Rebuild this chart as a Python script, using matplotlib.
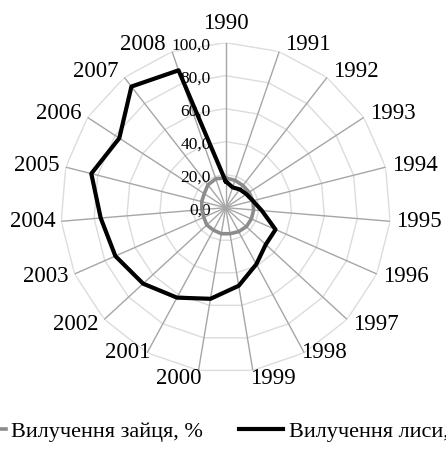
import numpy as np
import matplotlib
matplotlib.use('Agg')
import matplotlib.pyplot as plt

plt.rcParams['font.family'] = ['Liberation Serif', 'DejaVu Serif']

years = ['1990', '1991', '1992', '1993', '1994', '1995', '1996', '1997', '1998', '1999',
         '2000', '2001', '2002', '2003', '2004', '2005', '2006', '2007', '2008']
hare = [18, 17.5, 17, 17, 17, 17, 17, 17, 16.5, 16, 16, 15.5, 15.5, 14.5, 14.5, 15, 15.5, 17.5, 18.5]
fox = [16, 13, 14, 15, 17, 22, 33, 33, 39, 48, 56, 62, 68, 73, 76, 84, 77, 93, 88]
levels = [0, 20, 40, 60, 80, 100]
hare_label = 'Вилучення зайця, %'
fox_label = 'Вилучення лиси, %'

n = len(years)
angles = np.linspace(0, 2 * np.pi, n, endpoint=False)
closed = np.append(angles, angles[0])

fig = plt.figure(figsize=(4.46, 4.49), dpi=100)
ax = fig.add_axes([0.136, 0.170, 0.740, 0.735], projection='polar')
ax.set_theta_zero_location('N')
ax.set_theta_direction(-1)
ax.set_ylim(0, 100)
ax.grid(False)
ax.spines['polar'].set_visible(False)
ax.set_xticks([])
ax.set_yticks([])

# polygon rings and spokes like excel radar
for lv in levels[1:]:
    ax.plot(closed, [lv] * (n + 1), color='#dcdcdc', lw=1.0, zorder=1)
for a in angles:
    ax.plot([a, a], [0, 100], color='#a6a6a6', lw=1.0, zorder=1)

ax.plot(closed, hare + hare[:1], color='#8c8c8c', lw=2.6, zorder=3, label=hare_label)
ax.plot(closed, fox + fox[:1], color='black', lw=3.0, zorder=4, label=fox_label)

for lv in levels:
    ax.annotate(f'{lv:.1f}'.replace('.', ','), xy=(0, lv), xytext=(-15, -3),
                textcoords='offset pixels', ha='right', va='center', fontsize=12.5, zorder=2)

# category labels placed beside the spoke ends
for a, y in zip(angles, years):
    s, c = np.sin(a), np.cos(a)
    if abs(s) < 0.05:
        ha, va, dx, dy = 'center', 'bottom', 0, 9
    elif c < -0.95:
        ha, va, dx, dy = ('left' if s > 0 else 'right'), 'center', -3, -8
    elif c < -0.8:
        ha, va, dx, dy = ('left' if s > 0 else 'right'), 'center', -3, 0
    else:
        ha, va, dx, dy = ('left' if s > 0 else 'right'), 'center', 6, 7 * c
    ax.annotate(y, xy=(a, 100), xytext=(dx * np.sign(s), dy), textcoords='offset pixels',
                ha=ha, va=va, fontsize=16.5)

fig.legend(loc='center', bbox_to_anchor=(0.4865, 0.038), ncol=2, frameon=False,
           fontsize=16, handlelength=2.0, handletextpad=0.25, columnspacing=1.6)

fig.savefig('out.png', dpi=100)
